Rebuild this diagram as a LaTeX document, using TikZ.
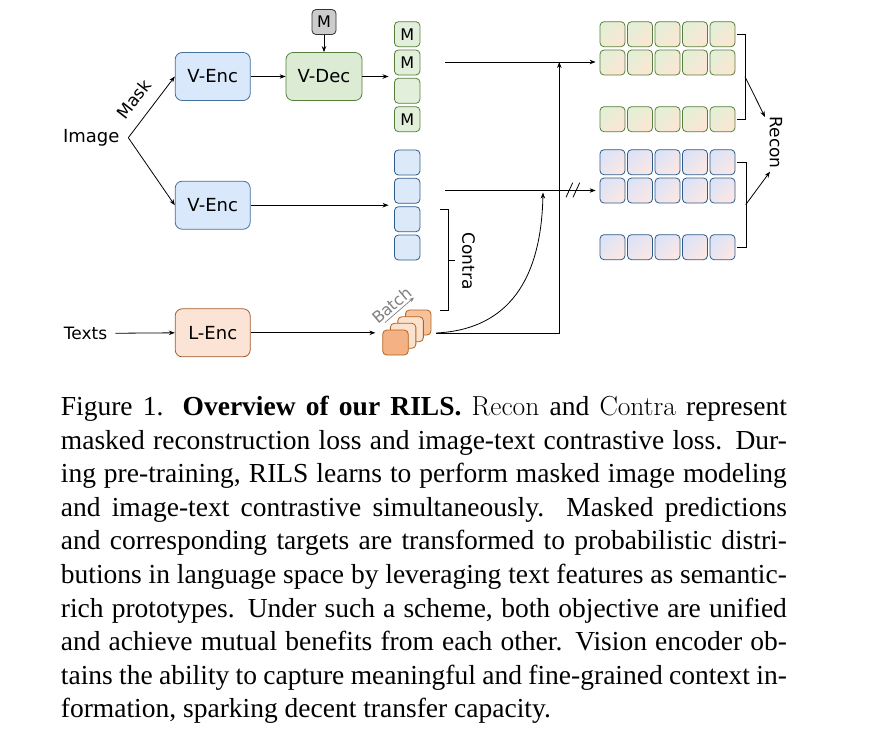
\documentclass[tikz,border=0pt]{standalone}
\usepackage{fontspec}
\newfontfamily\dv{DejaVu Sans}
\newfontfamily\capfont{Liberation Serif}
\usetikzlibrary{arrows.meta,calc}
\definecolor{encF}{HTML}{DAE8FC}
\definecolor{encD}{HTML}{41719C}
\definecolor{decF}{HTML}{DCEBD4}
\definecolor{decD}{HTML}{56803A}
\definecolor{lenF}{HTML}{FBE4D5}
\definecolor{lenD}{HTML}{A35A2B}
\definecolor{mF}{HTML}{CCCCCC}
\definecolor{mD}{HTML}{333333}
\definecolor{gF}{HTML}{E2EFDA}
\definecolor{gD}{HTML}{56803A}
\definecolor{bF}{HTML}{DCE9F8}
\definecolor{bD}{HTML}{2E5C8A}
\definecolor{gmA}{HTML}{E3EFD6}
\definecolor{gmB}{HTML}{FCE6D3}
\definecolor{bmA}{HTML}{DDE3F7}
\definecolor{bmB}{HTML}{FBE7E4}
\definecolor{oD}{HTML}{B4621F}
\definecolor{oFront}{HTML}{F4B183}
\definecolor{oMid}{HTML}{FBE2CF}
\definecolor{oBack}{HTML}{F6C29C}
\definecolor{batchG}{HTML}{808080}
\begin{document}
\begin{tikzpicture}[x=1pt,y=-1pt,
  lbl/.style={font=\dv\fontsize{18}{20}\selectfont, inner sep=0},
  lblsm/.style={font=\dv\fontsize{17}{19}\selectfont, inner sep=0},
  bigbox/.style={rounded corners=7pt, minimum width=75pt, minimum height=48pt, line width=0.8pt, inner sep=0, font=\dv\fontsize{18}{20}\selectfont},
  encbox/.style={bigbox, draw=encD, fill=encF},
  decbox/.style={bigbox, draw=decD, fill=decF, minimum width=76pt},
  lencbox/.style={bigbox, draw=lenD, fill=lenF},
  tok/.style={rounded corners=4pt, minimum width=25.5pt, minimum height=25pt, line width=0.8pt, inner sep=0, font=\dv\fontsize{16}{18}\selectfont},
  gtok/.style={tok, draw=gD, fill=gF},
  btok/.style={tok, draw=bD, fill=bF},
  mtok/.style={tok, draw=mD, fill=mF, minimum width=24pt},
  gmat/.style={tok, minimum width=25pt, draw=gD, top color=gmA, bottom color=gmB, shading angle=45},
  bmat/.style={tok, minimum width=25pt, draw=bD, top color=bmA, bottom color=bmB, shading angle=45},
  otok/.style={tok, draw=oD},
  conn/.style={line width=0.8pt, draw=black},
  arr/.style={conn, -{Stealth[length=6pt,width=4.5pt]}},
  capline/.style={anchor=base west, inner sep=0, font=\capfont\fontsize{27.5}{33.6}\selectfont},
]
\useasboundingbox (0,0) rectangle (871,732);
\fill[white] (0,0) rectangle (871,732);

% ---- left part
\node[lbl] (img) at (91.3,137.7) {Image};
\coordinate (split) at (128.3,137.7);
\node[encbox] (venc1) at (212.7,76.5) {V-Enc};
\node[decbox] (vdec) at (324,76.5) {V-Dec};
\node[mtok] (mk) at (324,22) {M};
\node[encbox] (venc2) at (212.7,205.2) {V-Enc};
\node[lencbox] (lenc) at (212.7,332.8) {L-Enc};
\node[lblsm] (txt) at (85.5,333.3) {Texts};
\node[font=\dv\fontsize{17}{19}\selectfont, inner sep=0, rotate=52] (mask) at (134,99) {Mask};

% ---- token columns
\node[gtok] (g1) at (407.2,34.2) {M};
\node[gtok] (g2) at (407.2,62.5) {M};
\node[gtok] (g3) at (407.2,90.8) {};
\node[gtok] (g4) at (407.2,119.2) {M};
\node[btok] (b1) at (407.2,162.5) {};
\node[btok] (b2) at (407.2,190.8) {};
\node[btok] (b3) at (407.2,219.2) {};
\node[btok] (b4) at (407.2,247.5) {};

% ---- orange stack
\node[otok, fill=oBack] (o4) at (418.2,322.5) {};
\node[otok, fill=oMid] (o3) at (410.6,329.2) {};
\node[otok, fill=oMid] (o2) at (403.1,335.8) {};
\node[otok, fill=oFront] (o1) at (395.5,342.5) {};

% ---- matrices
\foreach \r/\y in {1/34.2,2/62.5,3/119.2}{
  \foreach \c/\x in {1/612.5,2/640,3/667.5,4/695,5/722.5}{
    \node[gmat] (gm\r\c) at (\x,\y) {};
  }
}
\foreach \r/\y in {1/162.2,2/190.5,3/247.2}{
  \foreach \c/\x in {1/612.5,2/640,3/667.5,4/695,5/722.5}{
    \node[bmat] (bm\r\c) at (\x,\y) {};
  }
}

% ---- arrows left
\draw[arr] (split) -- (venc1.west);
\draw[arr] (split) -- (venc2.west);
\draw[arr] (venc1.east) -- (vdec.west);
\draw[arr] (mk.south) -- (vdec.north);
\coordinate (gin) at ($(g2.west)!0.5!(g3.west)$);
\coordinate (bin) at ($(b2.west)!0.5!(b3.west)$);
\draw[arr, shorten >=5.5pt] (vdec.east) -- (vdec.east -| gin);
\draw[arr, shorten >=5.5pt] (venc2.east) -- (venc2.east -| bin);
\draw[arr, shorten <=8pt] (txt.east) -- (lenc.west);
\draw[arr, shorten >=7pt] (lenc.east) -- (lenc.east -| o1.west);

% ---- lines to matrices
\coordinate (gl) at (445,62);
\coordinate (bl) at (445,190.5);
\draw[arr, shorten >=4pt] (gl) -- (gl -| gm21.west);
\draw[arr, shorten >=4pt] (bl) -- (bm21.west);
\coordinate (so) at (436,333);
\coordinate (vc) at (559.3,333);
\draw[arr] (so) -- (vc) -- (vc |- gl);
\coordinate (ce) at (543,192.5);
\draw[arr] (so) .. controls (500,330) and (541,290) .. (ce);
\coordinate (brk) at (573,190.5);
\draw[conn] ([shift={(-7,6.8)}]brk) -- ++(6.7,-14.6);
\draw[conn] ([shift={(0,6.8)}]brk) -- ++(6.7,-14.6);

% ---- contra bracket
\coordinate (ct) at (440,209.3);
\coordinate (cb) at (440,310.7);
\draw[conn] (ct) -- ++(8.3,0) |- (cb);
\coordinate (cm) at (448.3,260);
\draw[conn] (cm) -- ++(7,0);
\node[lblsm, rotate=-90] (contra) at (468.5,261) {Contra};

% ---- batch
\coordinate (ba1) at (385,322.5);
\coordinate (ba2) at (414,297.5);
\draw[line width=0.7pt, draw=batchG, -{Stealth[length=5pt,width=4pt]}] (ba1) -- (ba2);
\node[font=\dv\fontsize{16}{18}\selectfont, text=batchG, inner sep=2pt, anchor=south, rotate=40] (batch) at ($(ba1)!0.42!(ba2)$) {Batch};

% ---- recon brackets
\draw[conn] ([xshift=2pt]gm15.east) -- ++(8,0) |- ([xshift=2pt]gm35.east);
\draw[conn] ([xshift=2pt]bm15.east) -- ++(8.7,0) |- ([xshift=2pt]bm35.east);
\coordinate (gbm) at (745,76.7);
\coordinate (gbe) at (765,117);
\coordinate (bbm) at (745.7,204.7);
\coordinate (bbe) at (770,171.7);
\draw[arr] (gbm) -- (gbe);
\draw[arr] (bbm) -- (bbe);
\node[lblsm, rotate=-90] (recon) at (776,142.5) {Recon};

% ---- caption
\node[capline] (c1) at (60.7,415.5) {\hbox to 726pt{Figure 1. \textbf{Overview of our RILS.} \textrm{Recon} and \textrm{Contra} represent}};
\node[capline] (c2) at (60.7,449.1) {\hbox to 726pt{masked reconstruction loss and image-text contrastive loss. Dur-}};
\node[capline] (c3) at (60.7,482.7) {\hbox to 726pt{ing pre-training, RILS learns to perform masked image modeling}};
\node[capline] (c4) at (60.7,516.3) {\hbox to 726pt{and image-text contrastive simultaneously. Masked predictions}};
\node[capline] (c5) at (60.7,549.9) {\hbox to 726pt{and corresponding targets are transformed to probabilistic distri-}};
\node[capline] (c6) at (60.7,583.5) {\hbox to 726pt{butions in language space by leveraging text features as semantic-}};
\node[capline] (c7) at (60.7,617.1) {\hbox to 726pt{rich prototypes. Under such a scheme, both objective are unified}};
\node[capline] (c8) at (60.7,650.7) {\hbox to 726pt{and achieve mutual benefits from each other. Vision encoder ob-}};
\node[capline] (c9) at (60.7,684.3) {\hbox to 726pt{tains the ability to capture meaningful and fine-grained context in-}};
\node[capline] (c10) at (60.7,717.9) {formation, sparking decent transfer capacity.};
\end{tikzpicture}
\end{document}
